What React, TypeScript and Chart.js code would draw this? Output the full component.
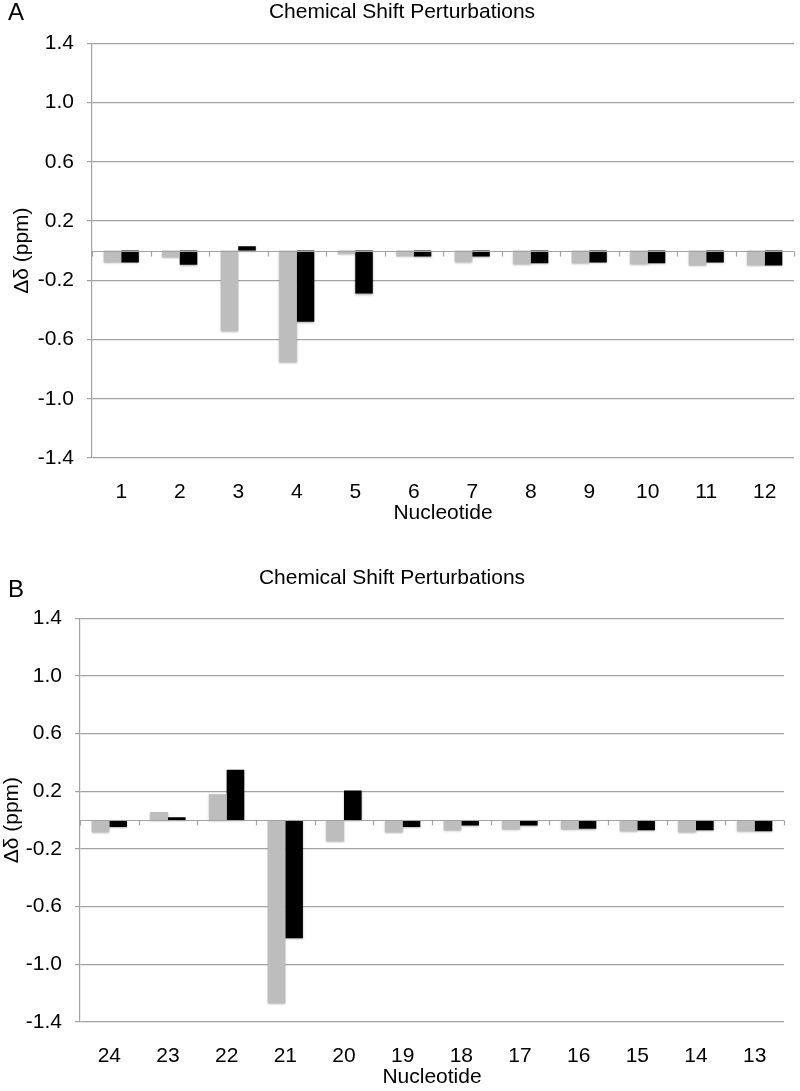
import React, { useEffect, useRef } from "react";
import { Chart, registerables } from "chart.js";

Chart.register(...registerables);

const FONT = "'Liberation Sans', Arial, Helvetica, sans-serif";
const GRID = "#a3a3a3";
const GRAY_BAR = "#bdbdbd";
const BLACK_BAR = "#000000";

const TITLE = "Chemical Shift Perturbations";
const X_TITLE = "Nucleotide";
const Y_TITLE = "Δδ (ppm)";
const Y_MIN = -1.4;
const Y_MAX = 1.4;
const Y_STEP = 0.4;

const labelsA = ["1", "2", "3", "4", "5", "6", "7", "8", "9", "10", "11", "12"];
const grayA = [-0.08, -0.045, -0.54, -0.75, -0.02, -0.035, -0.075, -0.09, -0.085, -0.09, -0.1, -0.095];
const blackA = [-0.08, -0.095, 0.03, -0.48, -0.29, -0.04, -0.04, -0.085, -0.08, -0.085, -0.08, -0.1];

const labelsB = ["24", "23", "22", "21", "20", "19", "18", "17", "16", "15", "14", "13"];
const grayB = [-0.085, 0.057, 0.18, -1.27, -0.147, -0.085, -0.07, -0.065, -0.065, -0.077, -0.085, -0.077];
const blackB = [-0.047, 0.02, 0.35, -0.82, 0.205, -0.047, -0.037, -0.037, -0.06, -0.07, -0.07, -0.077];

const shadowPlugin = {
  id: "barShadow",
  beforeDatasetsDraw(chart: any) {
    const ctx = chart.ctx;
    ctx.save();
    ctx.shadowColor = "rgba(0,0,0,0.3)";
    ctx.shadowBlur = 2;
    ctx.shadowOffsetX = 0;
    ctx.shadowOffsetY = 1;
  },
  afterDatasetsDraw(chart: any) {
    chart.ctx.restore();
  },
};

const zeroLinePlugin = {
  id: "zeroLine",
  afterDatasetsDraw(chart: any) {
    const { ctx, chartArea, scales } = chart;
    const x = scales.x;
    const y = scales.y;
    const y0 = Math.round(y.getPixelForValue(0)) + 0.5;
    const n = chart.data.labels.length;
    const half = (x.getPixelForTick(1) - x.getPixelForTick(0)) / 2;
    ctx.save();
    ctx.strokeStyle = GRID;
    ctx.lineWidth = 1.2;
    ctx.beginPath();
    ctx.moveTo(chartArea.left, y0);
    ctx.lineTo(chartArea.right, y0);
    for (let i = 0; i <= n; i++) {
      const px = Math.round(x.getPixelForTick(0) - half + i * 2 * half) + 0.5;
      ctx.moveTo(px, y0);
      ctx.lineTo(px, y0 + 5);
    }
    ctx.stroke();
    ctx.restore();
  },
};

type PanelProps = {
  top: number;
  height: number;
  padLeft: number;
  padRight: number;
  yWidth: number;
  titleGap: number;
  labels: string[];
  gray: number[];
  black: number[];
};

function Panel(p: PanelProps) {
  const ref = useRef<HTMLCanvasElement | null>(null);
  useEffect(() => {
    if (!ref.current) return;
    const chart = new Chart(ref.current, {
      type: "bar",
      data: {
        labels: p.labels,
        datasets: [
          { label: "gray", data: p.gray, backgroundColor: GRAY_BAR, borderWidth: 0 },
          { label: "black", data: p.black, backgroundColor: BLACK_BAR, borderWidth: 0 },
        ],
      },
      options: {
        responsive: false,
        animation: false,
        devicePixelRatio: 1,
        layout: { padding: { left: p.padLeft, right: p.padRight, top: 0, bottom: 0 } },
        datasets: { bar: { categoryPercentage: 0.6, barPercentage: 1.0 } },
        plugins: {
          legend: { display: false },
          tooltip: { enabled: false },
          title: {
            display: true,
            text: TITLE,
            color: "#000",
            font: { family: FONT, size: 21, weight: "normal", lineHeight: 1.2 },
            padding: { top: 0, bottom: p.titleGap },
          },
        },
        scales: {
          x: {
            grid: { display: false },
            border: { display: false },
            ticks: { color: "#000", font: { family: FONT, size: 21 }, padding: 14, maxRotation: 0 },
            title: {
              display: true,
              text: X_TITLE,
              color: "#000",
              font: { family: FONT, size: 21, lineHeight: 1.2 },
              padding: { top: 0, bottom: 1 },
            },
            afterFit: (s: any) => {
              s.height = 69;
            },
          },
          y: {
            min: Y_MIN,
            max: Y_MAX,
            grid: { color: GRID, lineWidth: 1.2, tickLength: 5, drawTicks: true },
            border: { display: true, color: GRID, width: 1.2 },
            ticks: {
              stepSize: Y_STEP,
              color: "#000",
              font: { family: FONT, size: 21 },
              padding: 13,
              callback: (v: any) => Number(v).toFixed(1),
            },
            title: {
              display: true,
              text: Y_TITLE,
              color: "#000",
              font: { family: FONT, size: 21, lineHeight: 1.2 },
              padding: 0,
            },
            afterFit: (s: any) => {
              s.width = p.yWidth;
            },
          },
        },
      },
      plugins: [shadowPlugin, zeroLinePlugin],
    } as any);
    return () => chart.destroy();
  }, []);
  return (
    <canvas
      ref={ref}
      width={800}
      height={p.height}
      style={{ position: "absolute", left: 0, top: p.top, width: 800, height: p.height }}
    />
  );
}

const letterStyle: React.CSSProperties = {
  position: "absolute",
  left: 8,
  fontFamily: FONT,
  fontSize: 24,
  lineHeight: "24px",
  color: "#000",
};

export default function App() {
  return (
    <div style={{ position: "absolute", left: 0, top: 0, width: 800, height: 1091, background: "#fff" }}>
      <Panel top={0} height={527} padLeft={10} padRight={6} yWidth={82} titleGap={18}
        labels={labelsA} gray={grayA} black={blackA} />
      <Panel top={566} height={525} padLeft={0} padRight={16} yWidth={80} titleGap={27}
        labels={labelsB} gray={grayB} black={blackB} />
      <div style={{ ...letterStyle, top: 0 }}>A</div>
      <div style={{ ...letterStyle, top: 577 }}>B</div>
    </div>
  );
}
